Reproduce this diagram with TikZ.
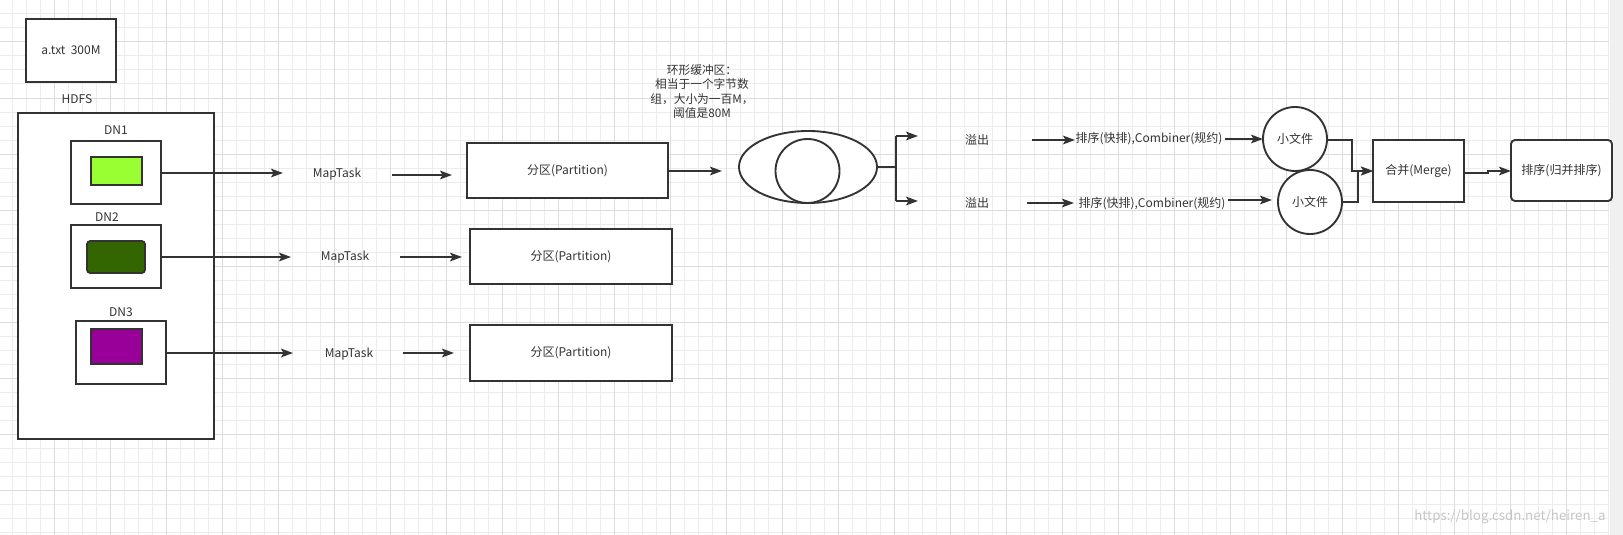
\documentclass[tikz,border=0pt]{standalone}
\usepackage{fontspec}
\setmainfont{Noto Sans CJK SC}
\usetikzlibrary{arrows.meta,shapes.geometric}
\definecolor{lc}{HTML}{333333}
\definecolor{tc}{HTML}{333333}
\definecolor{gminor}{HTML}{ECECEC}
\definecolor{gmajor}{HTML}{DCDCDC}
\definecolor{strip}{HTML}{F0F0F0}
\definecolor{cgreen}{HTML}{99FF33}
\definecolor{cdark}{HTML}{336600}
\definecolor{cpurple}{HTML}{990099}
\tikzset{
  sz/.style 2 args={minimum width=#1*0.75pt, minimum height=#2*0.75pt},
  box/.style={draw=lc, line width=1.4pt, fill=white, inner sep=0pt, outer sep=0pt,
    text=tc, font=\fontsize{9}{11}\selectfont},
  lbl/.style={text=tc, inner sep=0pt, font=\fontsize{9}{11}\selectfont},
  ln/.style={draw=lc, line width=1.4pt},
  arr/.style={ln, -{Stealth[length=9pt, width=6.5pt, inset=2pt]}},
  gridminor/.style={gminor, line width=0.75pt},
  gridmajor/.style={gmajor, line width=0.75pt},
}
\begin{document}
\begin{tikzpicture}[x=0.75pt, y=-0.75pt]
\useasboundingbox (0,0) rectangle (1623,535);
\fill[white] (0,0) rectangle (1623,535);
% grid
\foreach \x in {12,26,...,1608} \draw[gridminor] (\x,0) -- (\x,535);
\foreach \y in {0,14,...,534} \draw[gridminor] (0,\y) -- (1609,\y);
\foreach \x in {54,110,...,1608} \draw[gridmajor] (\x,0) -- (\x,535);
\foreach \y in {42,98,...,534} \draw[gridmajor] (0,\y) -- (1609,\y);
\fill[strip] (1609.5,0) rectangle (1623,535);

% file
\node[box, sz={90}{63}] (atxt) at (71,50.5) {a.txt\ \ 300M};
\node[lbl] (hdfslbl) at (77,99) {HDFS};
\node[box, sz={196}{326}] (hdfs) at (116,276) {};

% data nodes
\node[lbl] (dn1lbl) at (116,130) {DN1};
\node[box, sz={90}{63}] (dn1) at (116,172.5) {};
\node[box, sz={51}{28}, fill=cgreen] (g1) at (116.5,171) {};
\node[lbl] (dn2lbl) at (107,217) {DN2};
\node[box, sz={90}{63}] (dn2) at (116,256.5) {};
\node[box, sz={58}{32}, fill=cdark, rounded corners=2.5pt] (g2) at (116,257) {};
\node[lbl] (dn3lbl) at (121,312) {DN3};
\node[box, sz={90}{63}] (dn3) at (121,352.5) {};
\node[box, sz={51}{35}, fill=cpurple] (g3) at (116.5,346.5) {};

% free ends
\coordinate (e1) at (283,173);
\coordinate (e2) at (291,257);
\coordinate (e3) at (293,353);
\draw[arr] (dn1.east |- e1) -- (e1);
\draw[arr] (dn2.east |- e2) -- (e2);
\draw[arr] (dn3.east |- e3) -- (e3);

% MapTasks
\node[lbl] (m1) at (337,174) {MapTask};
\node[lbl] (m2) at (345,257) {MapTask};
\node[lbl] (m3) at (349,354) {MapTask};
\coordinate (s1) at (392,175); \coordinate (t1) at (452,175);
\coordinate (s2) at (400,257); \coordinate (t2) at (462,257);
\coordinate (s3) at (403,353); \coordinate (t3) at (454,353);
\draw[arr] (s1) -- (t1);
\draw[arr] (s2) -- (t2);
\draw[arr] (s3) -- (t3);

% partitions
\node[box, sz={201}{55}] (p1) at (567.5,170.5) {分区(Partition)};
\node[box, sz={202}{55}] (p2) at (571,256.5) {分区(Partition)};
\node[box, sz={202}{56}] (p3) at (571,353) {分区(Partition)};

\coordinate (b1) at (722,171);
\draw[arr] (p1.east |- b1) -- (b1);

% ring buffer
\node[lbl, align=center, font=\fontsize{8.8}{10.7}\selectfont] (note) at (702,91.5)
  {环形缓冲区：\\相当于一个字节数\\组，大小为一百M，\\阈值是80M};
\node[box, ellipse, sz={138}{72}] (el) at (808,167) {};
\node[box, circle, minimum size=64*0.75pt] (ci) at (807.5,171) {};

\coordinate (br) at (896,167);
\coordinate (bt) at (896,136);
\coordinate (bb) at (896,201);
\coordinate (o1) at (918,136);
\coordinate (o2) at (918,201);
\draw[ln] (el.east) -- (br);
\draw[ln] (bt) -- (bb);
\draw[arr] (bt) -- (o1);
\draw[arr] (bb) -- (o2);

% spills
\node[lbl] (y1) at (977,140) {溢出};
\node[lbl] (y2) at (977,203) {溢出};
\coordinate (a1s) at (1032,140); \coordinate (a1t) at (1075,140);
\coordinate (a2s) at (1027,203); \coordinate (a2t) at (1074,203);
\draw[arr] (a1s) -- (a1t);
\draw[arr] (a2s) -- (a2t);
\node[lbl] (k1) at (1149,139) {排序(快排),Combiner(规约)};
\node[lbl] (k2) at (1152,204) {排序(快排),Combiner(规约)};

\node[box, circle, minimum size=64*0.75pt] (c1) at (1295,139) {小文件};
\node[box, circle, minimum size=64*0.75pt] (c2) at (1310,202) {小文件};
\coordinate (f1) at (1225,139);
\coordinate (f2s) at (1228,200); \coordinate (f2t) at (1272,200);
\draw[arr] (f1) -- (c1.west);
\draw[arr] (f2s) -- (f2t);

% merge and sort
\node[box, sz={91}{62}] (mg) at (1418.5,171) {合并(Merge)};
\node[box, sz={101}{61}, rounded corners=3pt] (st) at (1561.5,170.5) {排序(归并排序)};
\draw[arr] (c1.east) ++(0,1) -- ++(25,0) |- (mg.west);
\draw[arr] (c2.east) -- ++(16,0) |- (mg.west);
\coordinate (j1) at (1488,173);
\coordinate (j2) at (1488,171);
\draw[arr] (mg.east) ++(0,2) -- (j1) -- (j2) -- (j2 -| st.west);

% watermark
\node[text=gray!45, inner sep=0pt, font=\fontsize{10}{12}\selectfont] (wm) at (1510,517) {https://blog.csdn.net/heiren\_a};
\end{tikzpicture}
\end{document}
